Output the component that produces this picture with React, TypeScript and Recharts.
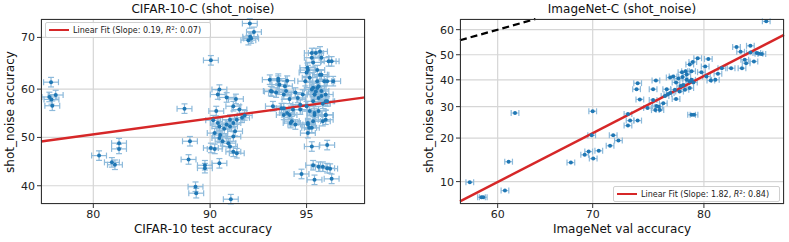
import React from 'react';
import {
  ScatterChart,
  Scatter,
  XAxis,
  YAxis,
  CartesianGrid,
  ErrorBar,
  ReferenceLine,
} from 'recharts';

// CIFAR-10 test accuracy vs CIFAR-10-C (shot_noise) accuracy, in %
const cifarX = [
  75.25, 75.05, 75.3, 75.8, 75.4, 80.6, 81.9, 82.2, 82.6, 82.6,
  88.2, 88.6, 88.5, 89.0, 89.05, 89.65, 89.65, 90.05, 90.05, 90.3,
  90.6, 90.6, 91.3, 90.4, 90.5, 90.2, 90.5, 90.3, 90.6, 90.8,
  91.15, 91.25, 91.45, 91.55, 91.25, 91.45, 91.65, 91.45, 91.6, 91.05,
  91.25, 91.05, 90.6, 91.95, 92.1, 91.65, 91.45, 91.8, 90.65, 90.9,
  92.38, 92.6, 92.4, 92.3, 92.45,
  93.8, 93.5, 93.85, 94.2, 94.15, 94.05, 93.95, 94.05, 94.3, 94.35,
  94.55, 94.45, 94.65, 94.75, 94.85, 94.95, 95.0, 95.03, 95.2, 95.35,
  95.5, 95.8, 95.12, 95.25, 95.3, 95.25, 95.45, 95.4, 95.5, 95.65,
  95.7, 95.55, 95.75, 95.12, 95.3, 95.45, 95.7, 95.05, 95.2, 95.05,
  95.25, 95.6, 95.2, 95.75, 95.25, 95.45, 95.6, 95.75, 95.85, 94.8,
  95.3, 95.9, 93.4, 93.8, 93.45, 93.7, 94.1, 94.55, 94.3, 93.55,
  94.05, 94.2, 94.4, 94.75, 95.05, 95.25, 95.2, 95.55, 95.9, 95.4,
  95.55, 95.75, 95.95, 95.45, 95.2, 95.3, 95.55, 95.7, 95.0, 95.3,
  95.7, 95.7, 95.05, 95.1, 95.35, 95.4, 95.6,
];
const cifarY = [
  61.4, 58.4, 57.9, 58.8, 56.6, 46.2, 44.8, 44.3, 48.8, 47.6,
  56.0, 49.2, 45.4, 39.8, 38.5, 44.2, 43.6, 65.7, 47.8, 47.6,
  59.9, 44.6, 37.3, 55.5, 58.9, 53.6, 53.0, 50.9, 49.9, 49.2,
  48.8, 48.1, 50.2, 51.3, 52.3, 53.0, 53.7, 56.5, 58.0, 58.3,
  53.7, 52.7, 52.3, 54.1, 54.6, 46.7, 47.0, 55.8, 50.5, 51.8,
  72.5, 71.0, 70.1, 69.5, 69.8,
  62.1, 59.5, 60.9, 61.7, 59.6, 58.9, 56.1, 54.7, 54.7, 53.0,
  52.7, 55.8, 58.2, 56.8, 58.9, 61.6, 63.3, 64.25, 66.2, 67.1,
  67.4, 65.5, 62.3, 60.3, 58.9, 57.5, 58.2, 61.6, 62.9, 61.6,
  58.9, 59.6, 57.5, 55.5, 54.7, 55.5, 54.7, 52.7, 52.0, 50.9,
  53.4, 53.4, 48.1, 48.4, 44.2, 43.9, 43.9, 43.6, 43.5, 42.4,
  41.2, 41.4, 61.9, 61.7, 59.6, 59.3, 60.6, 59.3, 58.0, 56.5,
  56.1, 55.1, 53.4, 55.8, 63.8, 65.3, 67.1, 66.2, 65.5, 63.8,
  62.9, 61.6, 61.6, 60.6, 59.9, 58.9, 58.6, 57.5, 56.5, 55.1,
  54.7, 53.7, 53.0, 52.0, 59.5, 60.2, 57.0,
];

// ImageNet val accuracy vs ImageNet-C (shot_noise) accuracy, in %
const imagenetX = [
  56.9, 58.2, 58.4, 60.8, 61.2, 61.9, 67.8, 69.2, 69.6, 70.05,
  70.6, 69.9, 70.0, 71.7, 72.0, 72.5, 73.4, 73.6, 73.4, 74.3,
  74.3, 74.2, 74.5, 75.7, 75.95, 75.7, 75.9, 76.3, 76.2, 76.6,
  76.9, 77.2, 77.45, 77.6, 77.7, 77.2, 76.75, 77.7, 78.2, 78.6,
  78.6, 78.85, 79.0, 79.15, 78.85, 78.45, 78.25, 78.5, 79.0, 79.1,
  79.5, 79.0, 79.2, 79.8, 80.1, 80.35, 80.2, 80.55, 80.9, 81.1,
  81.4, 82.1, 82.5, 82.8, 83.5, 83.5, 83.75, 83.95, 84.1, 84.3,
  83.1, 83.2, 82.9, 84.6, 78.85, 78.3, 78.1, 77.0, 75.2, 76.0,
  77.9, 78.0,
];
const imagenetY = [
  9.9, 7.5, 7.5, 8.5, 14.0, 27.8, 13.8, 15.6, 16.4, 14.7,
  16.6, 20.8, 28.4, 17.9, 20.8, 19.3, 27.5, 25.3, 23.7, 25.3,
  38.7, 36.4, 32.6, 36.4, 39.7, 32.4, 28.8, 28.8, 30.0, 31.2,
  36.4, 40.9, 41.3, 36.2, 32.7, 35.0, 33.8, 39.0, 43.0, 42.1,
  40.0, 39.3, 40.0, 39.0, 36.8, 36.2, 41.1, 43.4, 43.4, 47.1,
  48.6, 27.2, 27.2, 43.0, 45.3, 48.3, 41.3, 39.7, 40.0, 42.4,
  44.6, 44.6, 53.1, 51.2, 53.6, 50.9, 47.3, 50.7, 50.4, 50.3,
  48.0, 46.6, 44.6, 63.2, 46.1, 38.0, 37.6, 34.5, 29.5, 30.2,
  40.5, 35.5,
];

const cifarXTicks = [80, 90, 95];
const cifarYTicks = [40, 50, 60, 70];
const imagenetXTicks = [60, 70, 80];
const imagenetYTicks = [10, 20, 30, 40, 50, 60];

const cifarXRange = [74.04, 96.89];
const cifarYRange = [36.35, 73.27];
const imagenetXRange = [55.8, 85.77];
const imagenetYRange = [6.58, 64.1];

// linear fits in probit space
const cifarFit = { slope: 0.19, intercept: -0.144, r2: 0.07 };
const imagenetFit = { slope: 1.82, intercept: -1.747, r2: 0.84 };

// inverse normal cdf (Acklam)
const probit = (pct: number) => {
  const p = pct / 100;
  const a = [-39.69683028665376, 220.9460984245205, -275.9285104469687, 138.357751867269, -30.66479806614716, 2.506628277459239];
  const b = [-54.47609879822406, 161.5858368580409, -155.6989798598866, 66.80131188771972, -13.28068155288572];
  const c = [-0.007784894002430293, -0.3223964580411365, -2.400758277161838, -2.549671348193639, 4.374664141464968, 2.938163982698783];
  const d = [0.007784695709041462, 0.3224671290700398, 2.445134137142996, 3.754408661907416];
  const plow = 0.02425;
  if (p < plow) {
    const q = Math.sqrt(-2 * Math.log(p));
    return (((((c[0] * q + c[1]) * q + c[2]) * q + c[3]) * q + c[4]) * q + c[5]) /
      ((((d[0] * q + d[1]) * q + d[2]) * q + d[3]) * q + 1);
  }
  if (p <= 1 - plow) {
    const q = p - 0.5;
    const r = q * q;
    return (((((a[0] * r + a[1]) * r + a[2]) * r + a[3]) * r + a[4]) * r + a[5]) * q /
      (((((b[0] * r + b[1]) * r + b[2]) * r + b[3]) * r + b[4]) * r + 1);
  }
  const q = Math.sqrt(-2 * Math.log(1 - p));
  return -(((((c[0] * q + c[1]) * q + c[2]) * q + c[3]) * q + c[4]) * q + c[5]) /
    ((((d[0] * q + d[1]) * q + d[2]) * q + d[3]) * q + 1);
};

const BLUE = '#1f77b4';
const ERR = '#8dbadb';
const RED = '#d62728';
const FONT = '"DejaVu Sans", sans-serif';

const dot = (props: any) => <circle cx={props.cx} cy={props.cy} r={2} fill={BLUE} />;

const tickStyle = { fontSize: 11, fill: '#222', fontFamily: FONT };

interface PanelProps {
  left: number;
  width: number;
  yAxisWidth: number;
  marginRight: number;
  title: string;
  xLabel: string;
  xs: number[];
  ys: number[];
  xTicks: number[];
  yTicks: number[];
  xRange: number[];
  yRange: number[];
  fit: { slope: number; intercept: number; r2: number };
  errX: number;
  errY: number;
  showIdentity: boolean;
  legend: { left: number; top: number; width: number };
}

const Panel: React.FC<PanelProps> = (p) => {
  const height = 242;
  const top = 19;
  const bottom = 38;
  const data = p.xs.map((x, i) => ({
    x: probit(x),
    y: probit(p.ys[i]),
    ex: p.errX,
    ey: p.errY,
  }));
  const xd = p.xRange.map(probit);
  const yd = p.yRange.map(probit);
  const fitY = (x: number) => p.fit.slope * x + p.fit.intercept;
  const label = (ticks: number[]) => (v: number) => {
    const i = ticks.findIndex((t) => Math.abs(probit(t) - v) < 1e-6);
    return i >= 0 ? String(ticks[i]) : '';
  };
  const plotLeft = p.yAxisWidth;
  const plotW = p.width - p.yAxisWidth - p.marginRight;
  const plotH = height - top - bottom;

  return (
    <div style={{ position: 'absolute', left: p.left, top: 0, width: p.width, height }}>
      <ScatterChart
        width={p.width}
        height={height}
        margin={{ top, right: p.marginRight, bottom: 0, left: 0 }}
      >
        <CartesianGrid stroke="#d6d6d6" strokeWidth={1.2} />
        <XAxis
          type="number"
          dataKey="x"
          domain={xd}
          allowDataOverflow
          ticks={p.xTicks.map(probit)}
          tickFormatter={label(p.xTicks)}
          height={bottom}
          tick={tickStyle}
          tickSize={4}
          tickLine={{ stroke: '#333' }}
          axisLine={false}
        />
        <YAxis
          type="number"
          dataKey="y"
          domain={yd}
          allowDataOverflow
          ticks={p.yTicks.map(probit)}
          tickFormatter={label(p.yTicks)}
          width={p.yAxisWidth}
          tick={tickStyle}
          tickSize={4}
          tickLine={{ stroke: '#333' }}
          axisLine={false}
        />
        <Scatter data={data} shape={dot} isAnimationActive={false}>
          <ErrorBar dataKey="ex" direction="x" width={3} stroke={ERR} strokeWidth={1.2} />
          {p.errY > 0 && (
            <ErrorBar dataKey="ey" direction="y" width={3} stroke={ERR} strokeWidth={1.2} />
          )}
        </Scatter>
        {p.showIdentity && (
          <ReferenceLine
            segment={[
              { x: xd[0], y: xd[0] },
              { x: yd[1], y: yd[1] },
            ]}
            stroke="#000"
            strokeWidth={2.2}
            strokeDasharray="7 4"
            ifOverflow="visible"
          />
        )}
        <ReferenceLine
          segment={[
            { x: xd[0], y: fitY(xd[0]) },
            { x: xd[1], y: fitY(xd[1]) },
          ]}
          stroke={RED}
          strokeWidth={2.4}
          ifOverflow="visible"
        />
      </ScatterChart>

      {/* axes frame */}
      <div
        style={{
          position: 'absolute',
          left: plotLeft,
          top,
          width: plotW,
          height: plotH,
          border: '1px solid #333',
          boxSizing: 'border-box',
          pointerEvents: 'none',
        }}
      />

      {/* legend */}
      <div
        style={{
          position: 'absolute',
          left: p.legend.left,
          top: p.legend.top,
          width: p.legend.width,
          height: 16,
          background: 'rgba(255,255,255,0.85)',
          border: '1px solid #d0d0d0',
          borderRadius: 2,
          boxSizing: 'border-box',
          display: 'flex',
          alignItems: 'center',
          fontSize: 8,
          color: '#222',
          whiteSpace: 'nowrap',
        }}
      >
        <div style={{ width: 20, height: 2.4, background: RED, marginLeft: 3, marginRight: 4 }} />
        <span>
          Linear Fit (Slope: {p.fit.slope.toFixed(2)}, <i>R</i>
          <sup style={{ fontSize: 5.5, verticalAlign: 3 }}>2</sup>: {p.fit.r2.toFixed(2)})
        </span>
      </div>

      {/* title */}
      <div
        style={{
          position: 'absolute',
          left: plotLeft,
          width: plotW,
          top: 2,
          textAlign: 'center',
          fontSize: 12,
          color: '#111',
        }}
      >
        {p.title}
      </div>

      {/* x label */}
      <div
        style={{
          position: 'absolute',
          left: plotLeft,
          width: plotW,
          top: 222,
          textAlign: 'center',
          fontSize: 12,
          color: '#111',
        }}
      >
        {p.xLabel}
      </div>

      {/* y label */}
      <div
        style={{
          position: 'absolute',
          left: p.yAxisWidth - 31 - 100,
          top: top + plotH / 2 - 8,
          width: 200,
          height: 16,
          lineHeight: '16px',
          textAlign: 'center',
          fontSize: 12,
          color: '#111',
          transform: 'rotate(-90deg)',
        }}
      >
        shot_noise accuracy
      </div>
    </div>
  );
};

export default function App() {
  return (
    <div
      style={{
        position: 'absolute',
        left: 0,
        top: 0,
        width: 789,
        height: 242,
        background: '#fff',
        fontFamily: FONT,
        overflow: 'hidden',
      }}
    >
      <Panel
        left={0}
        width={380}
        yAxisWidth={41}
        marginRight={15}
        title="CIFAR-10-C (shot_noise)"
        xLabel="CIFAR-10 test accuracy"
        xs={cifarX}
        ys={cifarY}
        xTicks={cifarXTicks}
        yTicks={cifarYTicks}
        xRange={cifarXRange}
        yRange={cifarYRange}
        fit={cifarFit}
        errX={0.028}
        errY={0.025}
        showIdentity={false}
        legend={{ left: 45, top: 22, width: 166 }}
      />
      <Panel
        left={400}
        width={389}
        yAxisWidth={60}
        marginRight={5}
        title="ImageNet-C (shot_noise)"
        xLabel="ImageNet val accuracy"
        xs={imagenetX}
        ys={imagenetY}
        xTicks={imagenetXTicks}
        yTicks={imagenetYTicks}
        xRange={imagenetXRange}
        yRange={imagenetYRange}
        fit={imagenetFit}
        errX={0.011}
        errY={0}
        showIdentity
        legend={{ left: 213, top: 186, width: 167 }}
      />
    </div>
  );
}
